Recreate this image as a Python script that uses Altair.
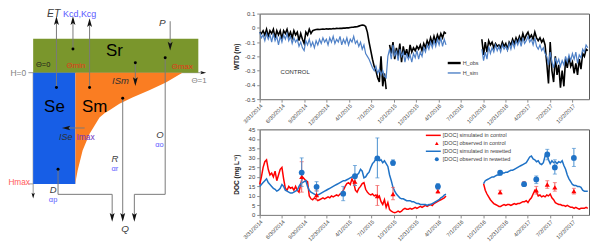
import altair as alt
import pandas as pd

FONT = "Liberation Sans"
AXIS_GRAY = "#8c8c8c"
TEXT_DARK = "#404040"

# ---------------- time axis ----------------
START_DATE = "2014-03-31"      # first weekly sample of the series
STEP_DAYS = 7
X_DOMAIN = ["2014-03-31", "2017-12-09"]
TICK_DATES = ["2014-03-31", "2014-06-30", "2014-09-30", "2014-12-30", "2015-04-01",
              "2015-07-01", "2015-10-01", "2015-12-31", "2016-04-01", "2016-07-01",
              "2016-10-01", "2016-12-31", "2017-04-02", "2017-07-02", "2017-10-02"]

# ---------------- water table depth (m), weekly samples ----------------
WTD_SERIES = ["H_obs", "H_sim"]
WTD_COLORS = ["#000000", "#4f81c7"]
WTD_TICKS = [0.1, 0, -0.1, -0.2, -0.3, -0.4, -0.5]
SITE_LABEL = "CONTROL"

HOBS_A_FIRST = 0
hobs_a = [-0.03, -0.04, -0.02, -0.05, -0.01, -0.06, -0.02, -0.04, -0.01, -0.07,
          -0.02, -0.05, -0.02, -0.08, -0.02, -0.04, -0.01, -0.06, -0.03, -0.07,
          -0.02, -0.05, -0.03, -0.09, -0.04, -0.08, -0.11, -0.03, -0.05, -0.01,
          -0.04, -0.02, -0.015, -0.012, -0.01, -0.012, -0.01, -0.008, -0.01, -0.007,
          -0.009, -0.006, -0.008, -0.005, -0.006, -0.004, -0.005, -0.003, -0.004, -0.002,
          -0.002, 0.0, 0.0, 0.002, 0.004, 0.005, 0.007, 0.008, 0.012, 0.016,
          0.02, 0.018, 0.01, -0.03, -0.1, -0.16, -0.22, -0.27, -0.3, -0.35,
          -0.38, -0.2, -0.41, -0.32, -0.43]
HOBS_B_FIRST = 76
hobs_b = [-0.12, -0.18, -0.1, -0.22, -0.14, -0.2, -0.11, -0.24, -0.13, -0.19,
          -0.15, -0.21, -0.12, -0.17, -0.14, -0.16, -0.13, -0.15, -0.12, -0.16,
          -0.11, -0.14, -0.09, -0.12, -0.07, -0.11, -0.06, -0.1, -0.05, -0.08,
          -0.04, -0.07, -0.03, -0.04]
HOBS_C_FIRST = 130
hobs_c = [-0.08, -0.19, -0.1, -0.17, -0.09, -0.12, -0.1, -0.14, -0.11, -0.13,
          -0.12, -0.14, -0.1, -0.13, -0.11, -0.15, -0.1, -0.12, -0.08, -0.11,
          -0.07, -0.1, -0.06, -0.09, -0.04, -0.08, -0.05, -0.03, -0.07, -0.05,
          -0.08, -0.03, -0.07, -0.09, -0.07, -0.1, -0.08, -0.12, -0.25, -0.39,
          -0.1, -0.3, -0.38, -0.2, -0.33, -0.26, -0.42, -0.3, -0.41, -0.22,
          -0.28, -0.2, -0.27, -0.24, -0.32, -0.25, -0.33, -0.22, -0.29, -0.18,
          -0.2, -0.15, -0.16]
HSIM_A_FIRST = 0
hsim_a = [-0.03, -0.07, -0.05, -0.09, -0.04, -0.08, -0.05, -0.1, -0.04, -0.09,
          -0.06, -0.12, -0.06, -0.1, -0.05, -0.08, -0.04, -0.09, -0.06, -0.11,
          -0.07, -0.1, -0.08, -0.13, -0.1, -0.14, -0.16, -0.09, -0.12, -0.08,
          -0.13, -0.1, -0.14, -0.09, -0.12, -0.08, -0.11, -0.07, -0.1, -0.08,
          -0.12, -0.07, -0.1, -0.06, -0.11, -0.08, -0.1, -0.06, -0.12, -0.08,
          -0.11, -0.07, -0.12, -0.08, -0.1, -0.06, -0.11, -0.09, -0.13, -0.1,
          -0.15, -0.12, -0.18, -0.2, -0.22, -0.25, -0.28, -0.3, -0.27, -0.32,
          -0.29, -0.33, -0.3, -0.34, -0.35, -0.2, -0.15, -0.22, -0.12, -0.2,
          -0.16, -0.23, -0.15, -0.2, -0.17, -0.24, -0.18, -0.22, -0.19, -0.24,
          -0.18, -0.21, -0.16, -0.22, -0.17, -0.2, -0.14, -0.17, -0.12, -0.15,
          -0.1, -0.14, -0.09, -0.13, -0.08, -0.12, -0.07, -0.13, -0.08, -0.12]
HSIM_B_FIRST = 130
hsim_b = [-0.15, -0.23, -0.17, -0.22, -0.13, -0.18, -0.14, -0.17, -0.12, -0.16,
          -0.13, -0.17, -0.12, -0.15, -0.13, -0.16, -0.11, -0.15, -0.1, -0.14,
          -0.09, -0.12, -0.08, -0.13, -0.07, -0.11, -0.09, -0.06, -0.1, -0.08,
          -0.12, -0.07, -0.13, -0.15, -0.12, -0.16, -0.14, -0.18, -0.2, -0.26,
          -0.17, -0.24, -0.28, -0.21, -0.25, -0.22, -0.27, -0.23, -0.26, -0.2,
          -0.24, -0.19, -0.23, -0.18, -0.22, -0.17, -0.25, -0.19, -0.21, -0.15,
          -0.17, -0.12, -0.14]

# ---------------- DOC (mg L-1) ----------------
DOC_TICKS = [0, 5, 10, 15, 20, 25, 30, 35, 40, 45]
DOC_LEGEND = ["[DOC] simulated in control", "[DOC] observed in control",
              "[DOC] simulated in rewetted", "[DOC] observed in rewetted"]
RED = "#ff0000"
BLUE = "#1f72c6"

DOC_A_FIRST = 0
doc_ctl_a = [16, 20, 25, 28, 29, 24, 21, 22, 20, 23,
             18, 21, 24, 25, 19, 14, 13, 15, 14, 14.5,
             13, 15, 13, 12, 16, 20, 19, 18, 17.5, 10,
             8.5, 8, 9, 8.5, 7.5, 8, 8.5, 9, 8.5, 9,
             9.5, 9, 10, 9.5, 10, 10.5, 10, 11, 11.5, 13,
             15, 16.5, 17, 16, 19, 17, 13, 12, 14, 15,
             16.5, 17, 13.5, 12, 11, 10.5, 11, 10, 10.5, 9,
             10, 7, 5.5, 8, 4, 6.5, 2.8, 2, 1.5, 1.2,
             1.5, 2, 1.5, 2, 3, 3.5, 3, 3, 3.5, 3,
             3.5, 4, 3.5, 4, 4.5, 4, 4.5, 5, 4.5, 5,
             5.5, 5, 6, 6.5, 7, 7.5, 8, 8.5, 9, 10]
doc_rew_a = [15, 16, 17, 18, 19, 17, 16, 15, 14, 13.5,
             12.5, 13, 14, 16, 15, 13, 12.5, 12, 11.5, 11.5,
             12, 12.5, 13, 15, 16.5, 17, 17.5, 18, 15, 13,
             12, 11.5, 11, 10.5, 10.5, 11, 11.5, 12, 12.5, 13,
             13.5, 14, 14.5, 15, 15.5, 16, 16.5, 17, 17.5, 18,
             18, 18.5, 19, 19.5, 20, 20.5, 19.5, 21, 22, 24,
             23, 19.5, 20, 21.5, 22.5, 25, 27, 28, 29.5, 29,
             28.5, 29, 27.5, 28.5, 27, 25.5, 21, 18, 14.5, 12.5,
             11, 10, 9, 8.5, 8.5, 8, 7.5, 7.5, 7.5, 7,
             7, 6.5, 6, 6, 5.5, 5.5, 5.5, 5.5, 5, 5.5,
             5.5, 6, 6.5, 7, 7.5, 8, 9, 9.5, 10.5, 11]
DOC_B_FIRST = 131
doc_ctl_b = [16.5, 13, 11, 9.5, 8, 7, 6, 5.5, 5, 4.5,
             4.5, 5, 5.5, 5, 5.5, 5.5, 5, 5.5, 6, 5.5,
             6, 6, 6.5, 7, 7, 7.5, 6.5, 8, 9, 11,
             13, 12, 10, 10.5, 9.5, 10, 9.5, 10.5, 10, 11,
             9, 8, 6.5, 6, 5.5, 5.5, 5, 5, 4.5, 5,
             4.5, 4, 4, 3.5, 4, 3.5, 3, 3.5, 3.5, 3.5,
             4, 3.5]
doc_rew_b = [16.5, 18, 18.5, 19, 19.5, 20, 20, 20.5, 21, 21,
             21.5, 22, 22, 22.5, 22.5, 23, 23.5, 23.5, 24, 24.5,
             25, 25.5, 26, 26.5, 27, 27.5, 29, 30.5, 31, 29.5,
             29, 28, 28.5, 27, 26.5, 27.5, 31, 32.5, 29, 27,
             28.5, 27.5, 28, 27, 28, 27.5, 28.5, 26, 24, 21,
             19, 17.5, 16, 15.5, 15.5, 15, 15, 14.5, 13, 12.5,
             12.5, 12.5]

rew_obs_dates = ["2014-09-19", "2014-11-19", "2015-03-08", "2015-04-25", "2015-07-26",
                 "2015-09-28", "2016-03-30", "2016-12-10", "2017-03-18", "2017-05-07",
                 "2017-06-21", "2017-07-22", "2017-10-08"]
rew_obs_mean = [22.3, 14.8, 11.2, 20.4, 29.8, 27.4, 15.0, 22.2, 16.2, 18.7, 31.8, 25.0, 30.0]
rew_obs_lo = [15.0, 12.5, 7.5, 15.5, 19.5, 26.0, 13.5, 21.0, 15.5, 16.5, 29.0, 21.5, 25.5]
rew_obs_hi = [30.0, 17.5, 15.0, 26.0, 40.5, 29.0, 16.5, 23.0, 17.0, 20.5, 34.5, 29.0, 35.0]

ctl_obs_dates = ["2014-09-19", "2014-11-19", "2015-04-25", "2015-07-26", "2015-09-28",
                 "2016-03-30", "2016-12-10", "2017-03-18", "2017-05-07", "2017-06-21",
                 "2017-07-22", "2017-10-08"]
ctl_obs_mean = [20.0, 10.5, 17.5, 10.0, 11.0, 12.5, 12.0, 16.5, 13.0, 16.0, 14.5, 12.5]
ctl_obs_lo = [12.0, 8.0, 15.5, 5.0, 8.0, 11.5, 11.0, 15.5, 11.0, 14.0, 12.5, 11.0]
ctl_obs_hi = [28.0, 13.0, 20.0, 15.5, 14.5, 14.0, 13.0, 17.5, 15.0, 18.0, 17.0, 14.0]

# ---------------- conceptual diagram geometry (picture pixel units) ----------------
STORE_NAMES = ["Sr", "Se"]
STORE_X0 = [33.3, 33.3]
STORE_X1 = [199.3, 75.7]
STORE_Y0 = [37.7, 71.7]
STORE_Y1 = [71.7, 183.5]
STORE_COLORS = ["#7a962c", "#175ee6"]
SM_COLOR = "#fa7d22"
SM_TOP = 71.7
SM_X = [75.7, 76.5, 78, 83, 90, 100, 105, 110, 120, 133, 150, 166.7, 183.3]
SM_Y = [183.5, 178, 170, 150, 133, 116.7, 112.5, 109.5, 103, 96.7, 89.3, 81.7, 71.7]

FLUX_PATHS = {
    "ET": ([56.7, 56.7], [86.7, 18]),
    "Kcd": ([73.3, 73.3], [48, 18]),
    "Kcg": ([90, 90], [86.7, 20]),
    "P": ([171, 171], [20, 47]),
    "ISm": ([136, 136], [61.7, 83]),
    "O": ([166, 166, 135, 135], [56.7, 194, 194, 219]),
    "R": ([123.3, 123.3], [97.3, 219]),
    "D": ([58.3, 58.3, 112.7, 112.7], [168.7, 194, 194, 219]),
    "ISe": ([85, 64], [127.3, 127.3]),
}
AXIS_PATHS = {
    "H": ([33.3, 33.3], [71.7, 196]),
    "Theta": ([28.5, 205], [71.7, 71.7]),
    "Hmax": ([28.5, 33.3], [183.5, 183.5]),
}
HEAD_X = [56.7, 73.3, 90, 171, 136, 135, 123.3, 112.7, 67.5, 33.3, 203.5]
HEAD_Y = [20.5, 20.5, 22.5, 44, 79.5, 216, 216, 216, 127.3, 194.5, 71.7]
HEAD_ANGLE = [0, 0, 0, 180, 180, 180, 180, 180, 270, 180, 90]
HEAD_SIZE = [120, 120, 120, 120, 120, 120, 120, 120, 110, 55, 55]
DOT_X = [56.7, 73.3, 90, 136, 166, 123.3, 58.3]
DOT_Y = [86.7, 48, 86.7, 61.7, 56.7, 97.3, 168.7]

LBL_TEXT = ["ET", "Kcd,Kcg", "P", "Sr", "Θ=0", "Θmin", "Θmax", "H=0", "Θ=1", "ISm",
            "Se", "Sm", "ISe", "Imax", "O", "αo", "R", "αr", "Hmax", "D", "αp", "Q"]
LBL_X = [54, 80, 163, 115, 43.3, 76.3, 183.3, 18.3, 200, 121,
         54.7, 95, 66, 86, 160.8, 160.3, 115.5, 115.5, 19.2, 53.3, 53.3, 125.8]
LBL_Y = [13, 13, 21.7, 50, 64, 65, 65.7, 71.7, 80.5, 80,
         106, 106, 136.5, 136.5, 134, 144, 158.5, 169, 182.3, 189.3, 199.5, 229.2]
LBL_COLOR = ["#404040", "#5a5aff", "#404040", "#000000", "#1a1a1a", "#e3391a", "#e3391a",
             "#7f7f7f", "#7f7f7f", "#303030", "#000000", "#000000", "#303030", "#7030c0",
             "#404040", "#5a5aff", "#404040", "#5a5aff", "#ff5a5a", "#404040", "#5a5aff",
             "#404040"]
LBL_SIZE = [10.5, 9, 10, 17, 7.5, 8, 8, 8.5, 8, 9.5,
            17, 17, 9, 8.5, 9.5, 7.5, 9.5, 7.5, 8.3, 9.5, 7.5, 10]
LBL_ITALIC = [True, False, True, False, False, False, False, False, False, True,
              False, False, True, False, True, False, True, False, False, True, False, True]

# ================= helpers =================
def dt(s):
    y, m, d = (int(p) for p in s.split("-"))
    return alt.DateTime(year=y, month=m, date=d, utc=True)


def weekly(first_index, n):
    t0 = pd.Timestamp(START_DATE)
    return [(t0 + pd.Timedelta(days=STEP_DAYS * (first_index + k))).strftime("%Y-%m-%d")
            for k in range(n)]


x_scale = alt.Scale(type="utc", domain=[dt(X_DOMAIN[0]), dt(X_DOMAIN[1])], nice=False)
x_axis = alt.Axis(values=[dt(s) for s in TICK_DATES], format="%-m/%-d/%Y", labelAngle=-45,
                  labelOverlap=False, labelFlush=False, labelFontSize=5.5, labelColor=TEXT_DARK,
                  labelPadding=1, tickSize=3, tickColor=AXIS_GRAY, domainColor=AXIS_GRAY,
                  grid=False, title=None)


def xenc(field="date"):
    return alt.X(f"{field}:T", scale=x_scale, axis=x_axis)


def yaxis(values, title, title_y, label_expr=None):
    kw = dict(values=values, title=title, titleX=-23, titleY=title_y, titleAngle=270,
              titleAlign="center", titleBaseline="middle", titleFontSize=6.5,
              titleFontWeight="bold", titleColor="#202020", labelFontSize=6,
              labelColor=TEXT_DARK, labelPadding=2, tickSize=3, tickColor=AXIS_GRAY,
              domainColor=AXIS_GRAY, grid=False, labelFlush=False)
    if label_expr:
        kw["labelExpr"] = label_expr
    return alt.Axis(**kw)


PW, PH = 331, 86
VIEW = alt.ViewBackground(stroke="#595959", strokeWidth=1)

# ================= top chart: WTD =================
rows = []
for first, vals, series, seg in [(HOBS_A_FIRST, hobs_a, "H_obs", "o1"),
                                 (HOBS_B_FIRST, hobs_b, "H_obs", "o2"),
                                 (HOBS_C_FIRST, hobs_c, "H_obs", "o3"),
                                 (HSIM_A_FIRST, hsim_a, "H_sim", "s1"),
                                 (HSIM_B_FIRST, hsim_b, "H_sim", "s2")]:
    for d, v in zip(weekly(first, len(vals)), vals):
        rows.append({"date": d, "v": v, "series": series, "seg": seg})
wtd_df = pd.DataFrame(rows)

y_wtd = alt.Y("v:Q", scale=alt.Scale(domain=[-0.5, 0.1], nice=False, zero=False),
              axis=yaxis(WTD_TICKS, "WTD (m)", 43,
                         "replace(format(datum.value, '.1~f'), '\u2212', '-')"))

obs_line = alt.Chart(wtd_df).transform_filter(alt.datum.series == "H_obs").mark_line(
    color=WTD_COLORS[0], strokeWidth=1.6).encode(x=xenc(), y=y_wtd, detail="seg:N")
sim_line = alt.Chart(wtd_df).transform_filter(alt.datum.series == "H_sim").mark_line(
    color=WTD_COLORS[1], strokeWidth=1.2).encode(x=xenc(), y=y_wtd, detail="seg:N")

wtd_leg = pd.DataFrame({"label": WTD_SERIES, "row": [0, 1], "color": WTD_COLORS, "w": [2.4, 1.4]})
y_leg_w = alt.Y("row:Q", scale=alt.Scale(domain=[0, 1], range=[49.7, 59.7]), axis=None)
leg_w_rule = alt.Chart(wtd_leg).mark_rule().encode(
    x=alt.value(189), x2=alt.value(202), y=y_leg_w,
    color=alt.Color("color:N", scale=None), size=alt.Size("w:Q", scale=None))
leg_w_text = alt.Chart(wtd_leg).mark_text(align="left", baseline="middle", fontSize=5.5,
                                          color=TEXT_DARK).encode(
    x=alt.value(204), y=y_leg_w, text="label:N")
site_text = alt.Chart(pd.DataFrame({"label": [SITE_LABEL]})).mark_text(
    align="left", baseline="middle", fontSize=6, color="#303030").encode(
    x=alt.value(21), y=alt.value(58.7), text="label:N")

top = alt.layer(alt.layer(obs_line, sim_line),
                alt.layer(leg_w_rule, leg_w_text, site_text)).resolve_scale(
    y="independent").properties(width=PW, height=PH, view=VIEW)

# ================= bottom chart: DOC =================
rows = []
for first, vals, series, seg in [(DOC_A_FIRST, doc_ctl_a, "ctl", "c1"),
                                 (DOC_B_FIRST, doc_ctl_b, "ctl", "c2"),
                                 (DOC_A_FIRST, doc_rew_a, "rew", "r1"),
                                 (DOC_B_FIRST, doc_rew_b, "rew", "r2")]:
    for d, v in zip(weekly(first, len(vals)), vals):
        rows.append({"date": d, "v": v, "series": series, "seg": seg})
doc_df = pd.DataFrame(rows)

obs_df = pd.concat([
    pd.DataFrame({"date": ctl_obs_dates, "v": ctl_obs_mean, "lo": ctl_obs_lo,
                  "hi": ctl_obs_hi, "series": "ctl"}),
    pd.DataFrame({"date": rew_obs_dates, "v": rew_obs_mean, "lo": rew_obs_lo,
                  "hi": rew_obs_hi, "series": "rew"}),
], ignore_index=True)

doc_scale = alt.Scale(domain=[0, 45], nice=False, zero=False)
doc_axis = yaxis(DOC_TICKS, "DOC (mg L\u207b\u00b9)", 45)


def ydoc(field):
    return alt.Y(f"{field}:Q", scale=doc_scale, axis=doc_axis)


ctl_line = alt.Chart(doc_df).transform_filter(alt.datum.series == "ctl").mark_line(
    color=RED, strokeWidth=1.5).encode(x=xenc(), y=ydoc("v"), detail="seg:N")
rew_line = alt.Chart(doc_df).transform_filter(alt.datum.series == "rew").mark_line(
    color=BLUE, strokeWidth=1.5).encode(x=xenc(), y=ydoc("v"), detail="seg:N")


def errbars(series, color):
    base = alt.Chart(obs_df).transform_filter(alt.datum.series == series)
    rule = base.mark_rule(color=color, strokeWidth=1).encode(
        x=xenc(), y=ydoc("lo"), y2=alt.Y2("hi:Q"))
    caps = base.transform_fold(["lo", "hi"], as_=["end", "val"]).mark_tick(
        orient="horizontal", size=4, thickness=1, color=color).encode(x=xenc(), y=ydoc("val"))
    return rule, caps


ctl_rule, ctl_caps = errbars("ctl", "#f25c5c")
rew_rule, rew_caps = errbars("rew", "#4a90d0")
ctl_pts = alt.Chart(obs_df).transform_filter(alt.datum.series == "ctl").mark_point(
    shape="triangle-up", filled=True, size=26, color=RED, opacity=1).encode(x=xenc(), y=ydoc("v"))
rew_pts = alt.Chart(obs_df).transform_filter(alt.datum.series == "rew").mark_circle(
    size=34, color=BLUE, opacity=1).encode(x=xenc(), y=ydoc("v"))

doc_leg = pd.DataFrame({"label": DOC_LEGEND, "row": [0, 1, 2, 3],
                        "kind": ["line", "tri", "line", "dot"],
                        "color": [RED, RED, BLUE, BLUE]})
y_leg_d = alt.Y("row:Q", scale=alt.Scale(domain=[0, 3], range=[6, 30]), axis=None)
leg_d_rule = alt.Chart(doc_leg).transform_filter(alt.datum.kind == "line").mark_rule(
    strokeWidth=1.5).encode(x=alt.value(167), x2=alt.value(182), y=y_leg_d,
                            color=alt.Color("color:N", scale=None))
leg_d_tri = alt.Chart(doc_leg).transform_filter(alt.datum.kind == "tri").mark_point(
    shape="triangle-up", filled=True, size=14, opacity=1).encode(
    x=alt.value(178), y=y_leg_d, color=alt.Color("color:N", scale=None))
leg_d_dot = alt.Chart(doc_leg).transform_filter(alt.datum.kind == "dot").mark_circle(
    size=16, opacity=1).encode(x=alt.value(178), y=y_leg_d, color=alt.Color("color:N", scale=None))
leg_d_text = alt.Chart(doc_leg).mark_text(align="left", baseline="middle", fontSize=5.5,
                                          color=TEXT_DARK).encode(
    x=alt.value(184), y=y_leg_d, text="label:N")

bottom = alt.layer(
    alt.layer(ctl_line, rew_line, ctl_rule, ctl_caps, rew_rule, rew_caps, ctl_pts, rew_pts),
    alt.layer(leg_d_rule, leg_d_tri, leg_d_dot, leg_d_text)).resolve_scale(
    y="independent").properties(width=PW, height=PH, view=VIEW)

# ================= conceptual diagram =================
SX0, SW = 8, 200
SY0, SH = 12.3, 220


def sx(field):
    return alt.X(f"{field}:Q", scale=alt.Scale(domain=[SX0, SX0 + SW], nice=False, zero=False),
                 axis=None)


def sy(field):
    return alt.Y(f"{field}:Q", scale=alt.Scale(domain=[SY0, SY0 + SH], nice=False, zero=False,
                                               reverse=True), axis=None)


stores = pd.DataFrame({"name": STORE_NAMES, "x0": STORE_X0, "x1": STORE_X1, "y0": STORE_Y0,
                       "y1": STORE_Y1, "color": STORE_COLORS})
sm = pd.DataFrame({"x": SM_X, "y": SM_Y, "top": SM_TOP})

prow = []
for group, paths in [("axis", AXIS_PATHS), ("flux", FLUX_PATHS)]:
    for name, (xs, ys) in paths.items():
        for k, (px, py) in enumerate(zip(xs, ys)):
            prow.append({"path": name, "group": group, "k": k, "x": px, "y": py})
paths_df = pd.DataFrame(prow)
heads = pd.DataFrame({"x": HEAD_X, "y": HEAD_Y, "ang": HEAD_ANGLE, "s": HEAD_SIZE})
dots = pd.DataFrame({"x": DOT_X, "y": DOT_Y})
labels = pd.DataFrame({"t": LBL_TEXT, "x": LBL_X, "y": LBL_Y, "c": LBL_COLOR,
                       "fs": LBL_SIZE, "it": LBL_ITALIC})

ARROW_PATH = "M0,-1L0.45,0.6L0,0.25L-0.45,0.6Z"

axis_lines = alt.Chart(paths_df).transform_filter(alt.datum.group == "axis").mark_line(
    color="#9a9a9a", strokeWidth=1).encode(x=sx("x"), y=sy("y"), detail="path:N", order="k:Q")
store_rects = alt.Chart(stores).mark_rect().encode(
    x=sx("x0"), x2=alt.X2("x1:Q"), y=sy("y0"), y2=alt.Y2("y1:Q"),
    color=alt.Color("color:N", scale=None))
sm_area = alt.Chart(sm).mark_area(color=SM_COLOR, opacity=1).encode(
    x=sx("x"), y=sy("y"), y2=alt.Y2("top:Q"))
flux_lines = alt.Chart(paths_df).transform_filter(alt.datum.group == "flux").mark_line(
    color="#7a7a7a", strokeWidth=1).encode(x=sx("x"), y=sy("y"), detail="path:N", order="k:Q")
head_marks = alt.Chart(heads).mark_point(shape=ARROW_PATH, filled=True, color="#111111",
                                         opacity=1).encode(
    x=sx("x"), y=sy("y"), angle=alt.Angle("ang:Q", scale=None), size=alt.Size("s:Q", scale=None))
dot_marks = alt.Chart(dots).mark_circle(size=9, color="#000000", opacity=1).encode(
    x=sx("x"), y=sy("y"))
txt_plain = alt.Chart(labels).transform_filter(alt.datum.it == False).mark_text(
    align="center", baseline="middle").encode(
    x=sx("x"), y=sy("y"), text="t:N", color=alt.Color("c:N", scale=None),
    size=alt.Size("fs:Q", scale=None))
txt_italic = alt.Chart(labels).transform_filter(alt.datum.it == True).mark_text(
    align="center", baseline="middle", fontStyle="italic").encode(
    x=sx("x"), y=sy("y"), text="t:N", color=alt.Color("c:N", scale=None),
    size=alt.Size("fs:Q", scale=None))

schematic = alt.layer(axis_lines, store_rects, sm_area, flux_lines, head_marks, dot_marks,
                      txt_plain, txt_italic).properties(width=SW, height=SH)

right = alt.vconcat(top, bottom, spacing=30.4, bounds="flush")
chart = alt.hconcat(schematic, right, spacing=53, bounds="flush").properties(
    padding=0).configure(font=FONT).configure_view(stroke=None)

chart.save("out.html", embed_options={"renderer": "svg", "actions": False})
